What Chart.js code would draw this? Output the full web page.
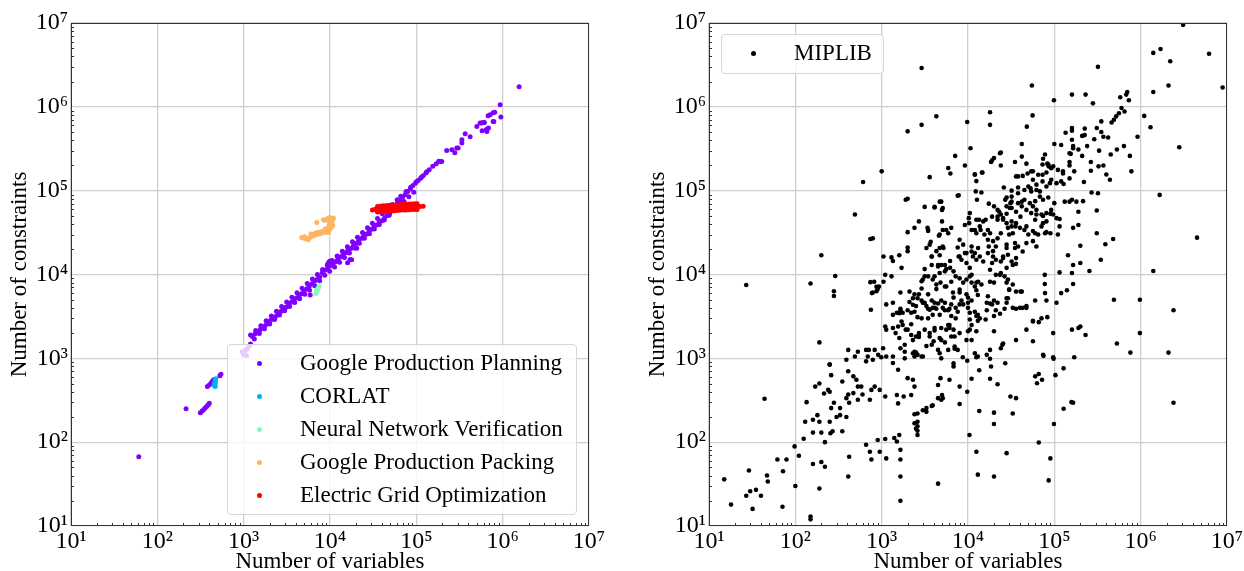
<!DOCTYPE html>
<html>
<head>
<meta charset="utf-8">
<script src="https://cdn.jsdelivr.net/npm/chart.js@4.4.1/dist/chart.umd.min.js"></script>
<style>
  html, body { margin: 0; padding: 0; background: #fff; }
  #wrap { position: relative; width: 1244px; height: 571px; overflow: hidden; font-family: "Liberation Serif", "Times New Roman", serif; }
  canvas { position: absolute; top: 0; }
  #leftChart { left: 0; }
  #rightChart { left: 638px; }
  .legend { position: absolute; box-sizing: border-box; background: rgba(255,255,255,0.8); border: 1px solid #d6d6d6; border-radius: 4px; }
  #leftLegend { left: 227px; top: 344px; width: 350px; height: 171px; }
  #rightLegend { left: 721px; top: 34px; width: 163px; height: 40px; }
  .legend .row { position: absolute; left: 0; right: 0; height: 33px; }
  .legend .dot { position: absolute; left: 29px; top: 14px; width: 5px; height: 5px; border-radius: 50%; }
  .legend .txt { position: absolute; left: 72px; top: -1px; line-height: 33px; font-size: 23px; color: #000; white-space: nowrap; }
</style>
</head>
<body>
<div id="wrap">
  <canvas id="leftChart" width="620" height="571"></canvas>
  <canvas id="rightChart" width="606" height="571"></canvas>
  <div id="leftLegend" class="legend"></div>
  <div id="rightLegend" class="legend"></div>
</div>
<script>
// ---- data: [number of variables, number of constraints] ----
const decades = [1e1, 1e2, 1e3, 1e4, 1e5, 1e6, 1e7];

const leftLabels = ['Google Production Planning', 'CORLAT', 'Neural Network Verification', 'Google Production Packing', 'Electric Grid Optimization'];
const leftColors = ['#8000ff', '#00b4eb', '#80ffb4', '#ffb462', '#ff0000'];

const planningPoints = [
  [61,67],[215,250],[315,225],[330,235],[345,245],[360,258],[375,268],[390,282],[400,292],
  [380,460],[400,480],[420,510],[440,545],[455,560],[530,620],[545,645],
  [960,1200],[1000,1180],[1050,1250],[1100,1300],[1150,1400],[1200,1480],[1080,1080],[1000,1100],
  [1260,1820],[1350,1950],[1450,2040],[1550,2190],[1660,2340],[1780,2460],[1900,2630],[2040,2820],
  [2190,3020],[2340,3160],[2510,3390],[2690,3630],[2880,3800],[3090,4070],[3310,4370],[3550,4680],
  [3800,4900],[4070,5250],[4370,5620],[4680,5890],[5010,6310],[5370,6760],[5750,7240],[6170,7760],
  [6610,8320],[7080,8710],[7590,9330],[8130,10500],[8710,11200],[9330,11700],[10000,12600],[10700,13200],
  [11500,14100],[12300,15100],[13200,16200],[14100,17000],[15100,18200],[16200,19500],[17400,20400],
  [18600,21900],[20000,23400],[21400,25100],[22900,26900],[24500,28800],[26300,30200],[28200,32400],
  [30200,34700],[32400,37200],[34700,38900],[37200,41700],[39800,43700],[42700,46800],[45700,50100],
  [49000,53700],[52500,57500],[56200,61700],[60300,70800],[64600,75900],[69200,83200],[74100,89100],
  [79400,97700],[85100,105000],[91200,115000],[97700,123000],[105000,132000],[112000,141000],
  [120000,151000],[129000,162000],[141000,178000],[155000,195000],[170000,209000],[182000,224000],
  [1330,1700],[1520,1980],[1740,2250],[2000,2560],[2280,2900],[2600,3280],[2980,3700],[3400,4150],
  [3900,4650],[4450,5150],[5100,5800],[5800,6500],[6650,7350],[7600,8450],[8700,9800],[9900,10900],
  [11300,12300],[12900,14000],[14700,15900],[16800,18100],[19200,20700],[21900,23600],[25000,27000],
  [28600,30700],[32600,34900],[37200,39500],[42500,44800],[48500,50900],[55300,57500],[63000,65500],
  [72000,74400],[82000,84500],[93500,96000],
  [1200,1900],[1380,2150],[1580,2450],[1820,2800],[2090,3200],[2400,3650],[2750,4150],[3150,4700],
  [3620,5350],[4150,6050],[4750,6850],[5450,7800],[6250,8850],[7150,10000],[8200,11500],[9300,13000],
  [10600,14700],[12100,16600],[13900,18900],[15900,21500],[18200,24500],[20800,27800],[23800,31600],
  [27200,36000],[31000,41000],[35500,46600],[40500,53000],[46300,60300],[52800,68500],[60000,78000],
  [66000,86000],[76000,98000],[86000,110000],[100000,128000],[115000,146000],[132000,168000],
  [9500,13500],[10000,14500],[9700,14000],[5900,5700],[17100,15100],[20400,20600],[16000,13800],[17800,15000],
  [197000,223000],[190000,223000],[225000,302000],[258000,308000],[294000,322000],[305000,322000],
  [279000,283000],[337000,370000],[337000,405000],[368000,477000],[420000,440000],[502000,583000],
  [548000,641000],[570000,641000],[594000,652000],[615000,652000],[656000,508000],[578000,519000],
  [646000,535000],[685000,560000],[679000,783000],[716000,805000],[776000,851000],[810000,860000],
  [776000,670000],[790000,670000],[935000,1060000],[953000,755000],[1550000,1740000]
];

const corlatPoints = [[460,470],[465,490],[470,510],[465,530],[470,550],[475,570],[462,500],[468,460]];

const nnPoints = [[6800,5900],[6900,6100],[7000,6500],[7200,6700],[7300,6900],[7500,7300]];

const packingPoints = [
  [4700,27700],[7030,41800],[5600,25900],[5800,27500],[6200,28500],[6370,29800],[6000,30500],[6700,31000],
  [7200,32000],[7500,30500],[7670,31700],[8000,32500],[8500,33000],[9000,32000],[9600,31700],[9180,34100],
  [8800,35000],[9500,36000],[10300,37000],[10500,37400],[9800,39000],[10600,40000],[10200,41000],
  [10000,42900],[10400,44000],[8400,45000],[10800,45500],[10950,47100],[9400,46500],[9900,48000],
  [5000,27000],[5300,26500],[6500,29000],[6900,30000],[7800,31000],[8200,31500],[8700,32500],[9300,33000],
  [9900,34500],[10100,35500],[10700,38500],[10000,40500],[9700,44000],[10400,46500],[8700,44500],
  [9200,45500],[5100,28200]
];

const gridPoints = [
  [31000,59000],[33000,59500],[35500,60000],[38000,60500],[41000,61000],[44000,61300],[47000,61600],
  [50000,62000],[54000,62300],[58000,62600],[62000,63000],[66000,63300],[71000,63500],[76000,63800],
  [82000,64000],[88000,64300],[95000,64500],[102000,64700],[110000,64800],[120000,65000],
  [35500,64800],[38000,65300],[41000,65900],[44000,66200],[47000,66500],[50000,67000],[54000,67300],
  [58000,67600],[62000,68000],[66000,68400],[71000,68600],[76000,68900],[82000,69100],[88000,69400],
  [95000,69700],[102000,69900],
  [35500,55500],[38000,56000],[41000,56400],[44000,56700],[47000,57000],[50000,57400],[54000,57600],
  [58000,57900],[62000,58300],[66000,58600],[71000,58700],[76000,59000],[82000,59200],[88000,59500],
  [95000,59700],[102000,59800]
];

const rightLabels = ['MIPLIB'];
const rightColors = ['#000000'];

const miplibPoints = [
  [3.1e6,9.5e6],[1.4e6,4.4e6],[1.7e6,4.9e6],[6.2e6,4.3e6],[2.2e6,3.5e6],[2.9e3,2.9e6],[3.2e5,3.0e6],
  [5.5e4,1.8e6],[2.1e6,1.8e6],[1.4e6,1.5e6],[8.9e6,1.7e6],[1.6e5,1.4e6],[2.3e5,1.4e6],[9.9e4,1.2e6],
  [2.8e5,1.1e6],[5.8e5,1.3e6],[7.0e5,1.5e6],[6.8e5,1.4e6],[7.3e5,1.2e6],[6.0e5,9.7e5],[6.5e5,8.8e5],
  [5.6e5,8.4e5],[5.2e5,7.7e5],[4.9e5,7.0e5],[4.6e5,6.5e5],[1.1e6,7.8e5],[1.3e6,5.7e5],[1.8e4,8.6e5],
  [4.3e3,7.7e5],[5.6e4,7.9e5],[1.8e4,6.1e5],[4.8e4,5.8e5],[9.8e3,6.6e5],[2.9e3,6.1e5],[2.0e3,5.1e5],
  [3.5e5,6.7e5],[3.1e5,5.6e5],[3.5e5,5.0e5],[3.7e5,4.4e5],[4.2e5,4.3e5],[9.2e5,4.4e5],[1.6e5,5.6e5],
  [1.6e5,5.2e5],[1.35e5,4.9e5],[2.25e5,5.5e5],[2.1e5,4.5e5],[2.25e5,4.6e5],[2.9e5,4.1e5],[4.2e4,3.6e5],
  [1.07e4,3.2e5],[1.0e5,3.6e5],[1.2e5,3.5e5],[1.6e5,4.05e5],[1.65e5,3.4e5],[1.55e5,2.75e5],[1.9e5,3.1e5],
  [2.1e5,2.6e5],[2.4e5,3.4e5],[3.3e5,3.0e5],[4.5e5,2.7e5],[5.3e5,3.1e5],[6.4e5,3.4e5],[7.5e5,2.6e5],
  [2.8e6,3.3e5],[7.1e3,2.6e5],[9.2e3,2.0e5],[2.4e4,2.85e5],[1.9e4,2.3e5],[1.85e4,2.2e5],[2.4e4,2.0e5],
  [7.8e4,2.7e5],[7.4e4,2.4e5],[8.3e4,2.1e5],[8.6e4,1.95e5],[9.7e4,1.95e5],[3.5e4,2.2e5],[4.75e4,2.1e5],
  [1.5e5,2.2e5],[1.5e5,2.0e5],[2.65e5,2.2e5],[2.65e5,1.73e5],[3.25e5,1.95e5],[3.7e5,2.0e5],[4.0e5,1.56e5],
  [4.4e5,1.35e5],[7.8e5,1.7e5],[3.6e3,1.45e5],[5.9e3,1.86e5],[6.25e3,1.6e5],[1.2e4,1.55e5],[1.47e4,1.65e5],
  [1.25e4,1.3e5],[3.8e4,1.48e5],[4.3e4,1.5e5],[4.9e4,1.6e5],[5.65e4,1.7e5],[6.5e4,1.55e5],[7.3e4,1.55e5],
  [8.1e4,1.65e5],[9.2e4,1.35e5],[1.1e5,1.77e5],[1.26e5,1.7e5],[1.7e5,1.7e5],[8.9e4,1.23e5],[8.1e4,1.12e5],
  [2.2e5,1.27e5],[2.6e4,1.09e5],[3.2e4,1.0e5],[3.8e4,1.09e5],[5.0e4,1.12e5],[5.4e4,9.8e4],[6.2e4,1.18e5],
  [6.8e4,9.8e4],[7.8e3,8.8e4],[1.23e4,9.8e4],[1.43e4,9.5e4],[1.27e4,7.8e4],[1.74e4,7.0e4],[2.0e4,6.5e4],
  [2.3e4,5.6e4],[2.2e4,4.9e4],[2.55e4,4.7e4],[2.8e4,5.3e4],[3.05e4,6.2e4],[3.1e4,7.1e4],[2.7e4,7.8e4],
  [3.2e4,8.5e4],[3.8e4,9.3e4],[4.2e4,7.4e4],[4.75e4,5.9e4],[4.05e4,4.9e4],[3.2e4,4.3e4],[3.55e4,3.75e4],
  [2.9e4,3.6e4],[3.3e4,3.1e4],[5.65e4,6.5e4],[5.4e4,5.4e4],[6.2e4,5.2e4],[6.0e4,4.5e4],[7.4e4,5.0e4],
  [8.1e4,4.3e4],[9.2e4,5.9e4],[9.7e4,5.2e4],[1.06e5,4.7e4],[8.1e4,3.2e4],[9.0e4,3.1e4],[1.1e5,3.0e4],
  [6.0e4,3.1e4],[4.5e4,3.4e4],[1.32e5,7.4e4],[1.5e5,7.4e4],[1.8e5,7.4e4],[2.15e5,7.5e4],[2.7e5,9.5e4],
  [3.2e5,9.3e4],[1.9e5,5.6e4],[3.1e5,5.8e4],[3.1e5,3.1e4],[3.9e5,2.3e4],[4.8e5,2.65e4],[2.0e5,2.2e4],
  [1.66e6,8.9e4],[4.5e6,2.75e4],[1.4e6,1.1e4],[1.44e5,1.7e4],[1.65e5,1.3e4],[1.15e5,1.06e4],[7.75e4,9.9e3],
  [7.75e4,7.7e3],[1.65e5,7.7e3],[3.45e5,1.5e4],[2.55e5,1.1e4],[1.9e3,7.8e4],[3.15e3,6.4e4],[1.6e3,1.7e4],
  [2.0e3,2.1e4],[3.45e3,3.4e4],[4.7e3,3.0e4],[5.1e3,3.4e4],[4.7e3,2.07e4],[5.4e3,1.3e4],[5.6e3,1.16e4],
  [4.5e3,1.3e4],[4.1e3,9.5e3],[3.15e3,9.5e3],[7.6e3,2.1e4],[7.8e3,1.64e4],[8.4e3,1.5e4],[9.2e3,1.8e4],
  [9.6e3,1.37e4],[1.05e4,1.2e4],[1.14e4,1.64e4],[1.1e4,2.16e4],[1.31e4,2.07e4],[1.05e4,5.4e4],[1.02e4,4.7e4],
  [1.03e4,4.1e4],[1.2e4,3.4e4],[1.4e4,3.4e4],[1.5e4,4.3e4],[1.34e4,4.5e4],[1.8e4,3.1e4],[1.7e4,2.6e4],
  [1.74e4,2.16e4],[2.1e4,2.16e4],[1.95e4,1.9e4],[2.55e4,1.57e4],[2.8e4,2.07e4],[3.5e4,2.07e4],[3.6e4,1.34e4],
  [1.8e4,1.14e4],[2.1e4,9.9e3],[2.4e4,1.04e4],[1.1e4,9.9e3],[1.25e4,8.0e3],
  [1.2e4,1.57e5],[1.45e4,1.65e5],[2.0e4,2.45e5],[2.35e4,2.8e5],[4.2e4,2.55e5],[7.3e4,2.05e5],[5.4e4,1.7e5],
  [8.5e4,2.05e5],[9.2e4,1.85e5],[1.26e5,1.6e5],[1.5e5,2.8e5],[1.65e5,3.2e5],[1.5e5,1.4e5],[3.6e4,1.48e5],
  [5.65e4,1.35e5],[7.3e4,1.29e5],[1.06e5,1.23e5],[1.2e5,1.29e5],[1.28e5,1.2e5],[4.5e4,1.02e5],[5.3e4,1.07e5],
  [6.2e4,1.02e5],[2.8e4,8.3e4],[3.2e4,7.4e4],[3.8e4,7.1e4],[4.5e4,7.8e4],[5.2e4,7.1e4],[6.0e4,7.5e4],
  [6.8e4,8.5e4],[7.4e4,7.8e4],[8.5e4,8.3e4],[1.0e5,7.1e4],[1.6e5,7.8e4],[2.8e4,6.5e4],[3.6e4,5.6e4],
  [7.1e4,5.2e4],[9.0e4,5.3e4],[1.15e5,4.6e4],[2.2e4,5.9e4],[2.4e4,5.2e4],[1.9e4,4.9e4],[1.6e4,4.5e4],
  [2.55e4,4.5e4],[2.8e4,4.1e4],[3.2e4,3.75e4],[3.6e4,4.1e4],[4.0e4,3.6e4],[5.0e4,3.0e4],[6.5e4,3.0e4],
  [7.4e4,4.1e4],[7.8e4,3.1e4],[1.25e4,4.5e4],[9.2e3,3.9e4],[1.1e4,3.4e4],[1.25e4,3.1e4],[1.55e4,3.0e4],
  [1.95e4,2.5e4],[2.2e4,2.7e4],[2.8e4,2.27e4],[3.5e4,2.37e4],[4.3e4,1.88e4],[6.2e4,2.16e4],[8.0e3,2.6e4],
  [8.0e3,1.64e4],[1.1e4,1.88e4],[1.25e4,1.5e4],[1.5e4,1.43e4],[1.7e4,1.8e4],[1.9e4,1.37e4],[2.4e4,1.43e4],
  [2.9e4,1.72e4],[3.2e4,1.43e4],[2.8e4,1.2e4],[5.1e3,2.16e4],[3.45e3,3.3e4],[5.1e3,6.2e4],[5.0e3,4.3e4],
  [5.6e3,3.4e4],[3.8e3,1.3e4],[4.5e3,1.25e4],[6.2e3,1.2e4],[4.7e3,1.04e4],[3.45e3,9.5e3],[2.9e3,8.3e3],
  [3.9e3,8.7e3],[4.8e3,8.0e3],[7.2e3,9.5e3],[8.0e3,9.0e3],[8.8e3,8.0e3],[1.05e4,9.5e3],[1.2e4,7.2e3],
  [1.31e4,8.2e3],[1.25e4,6.5e3],[1.8e4,8.2e3],[2.0e4,8.0e3],[2.65e4,9.5e3],[2.9e4,8.7e3],[3.3e4,7.6e3],
  [2.0e3,1.9e4],[1.7e3,1.2e4],[1.35e3,1.45e4],[1.1e3,9.9e3],[1.05e3,1.64e4],[790,2.7e4],[820,8.2e3],
  [900,6.7e3],[750,3.8e3],[1.3e3,9.5e3],[1.35e3,4.6e3],[1.13e3,4.4e3],[2.1e3,6.25e3],[2.3e3,5.2e3],
  [2.1e3,4.7e3],[2.3e3,4.35e3],[2.9e3,4.9e3],[3.3e3,4.2e3],[3.6e3,3.8e3],[3.8e3,4.9e3],[4.5e3,4.5e3],
  [5.1e3,4.0e3],[4.7e3,3.3e3],[3.45e3,3.0e3],[2.4e3,3.6e3],[2.0e3,3.75e3],[1.65e3,3.75e3],[1.35e3,3.3e3],
  [1.7e3,2.75e3],[2.2e3,2.55e3],[3.15e3,2.2e3],[4.1e3,2.15e3],[5.9e3,2.5e3],[6.4e3,3.2e3],[7.2e3,3.0e3],
  [5.4e3,3.75e3],[7.2e3,4.0e3],[1.0e4,4.0e3],[1.2e4,3.6e3],[1.25e4,2.1e3],[1.1e4,1.65e3],[8.0e3,6.1e3],
  [1.1e4,4.9e3],[2.0e4,4.9e3],[1.65e4,4.6e3],[1.65e4,3.75e3],[2.0e4,3.2e3],[2.35e4,3.4e3],[4.0e4,4.0e3],
  [3.6e4,6.25e3],[7.8e4,6.0e3],[1.06e5,4.6e3],[1.2e5,6.0e3],[1.4e5,6.5e3],[1.6e5,2.2e3],[5.65e4,2.75e3],
  [4.75e4,2.2e3],[3.6e4,1.65e3],[2.55e4,1.5e3],[1.8e4,1.26e3],[1.3e4,1.05e3],[7.0e3,1.3e3],[4.7e3,1.15e3],
  [990,1.03e3],[5.65e4,1.6e3],[7.4e4,1.1e3],[9.7e4,2.0e3],
  [280,6.3e3],[280,5.55e3],[770,6.0e3],[870,7.15e3],[870,6.3e3],[190,1.55e3],[1.65e3,3.9e3],[1.6e3,3.45e3],
  [2.7e3,5.8e3],[3.45e3,5.8e3],[4.3e3,6.7e3],[5.4e3,7.2e3],[6.7e3,6.1e3],[2.5e3,4.2e3],[3.0e3,4.6e3],
  [4.1e3,4.0e3],[5.9e3,3.75e3],[7.6e3,3.6e3],[1.1e3,2.4e3],[1.13e3,2.2e3],[1.35e3,2.3e3],[1.45e3,2.0e3],
  [1.6e3,1.75e3],[1.9e3,2.2e3],[2.2e3,1.9e3],[2.3e3,1.65e3],[2.7e3,1.8e3],[3.6e3,2.0e3],[4.1e3,2.3e3],
  [4.9e3,1.65e3],[5.6e3,2.2e3],[6.4e3,1.82e3],[1.65e3,1.32e3],[1.85e3,1.2e3],[2.4e3,1.2e3],[2.6e3,1.1e3],
  [2.9e3,1.05e3],[3.8e3,1.45e3],[4.9e3,1.0e3],[5.9e3,1.26e3],[7.0e3,1.38e3],[710,1.26e3],[910,1.1e3],
  [690,1.05e3],[790,960],[1.04e3,1.32e3],[1.13e3,1.05e3],[1.35e3,880],[1.55e3,730],[410,1.26e3],[490,1.05e3],
  [530,1.2e3],[660,920],[410,700],[350,530],[260,630],[240,420],[250,840],[390,960],[470,610],[510,555],
  [530,460],[470,385],[410,370],[390,335],[330,255],[420,295],[530,320],[600,370],[580,460],[760,420],
  [730,320],[830,460],[170,460],[190,500],[215,380],[250,400],[280,295],[260,255],[330,210],[300,200],
  [390,200],[135,300],[130,175],[160,185],[180,210],[190,175],[250,175],[270,135],[350,135],[160,130],
  [200,130],[255,128],[220,100],[125,110],[98,89],[79,62],[110,69],[44,330],[950,420],[1.1e3,350],
  [1.5e3,365],[1.55e3,290],[1.8e3,350],[2.2e3,365],[2.4e3,460],[2.3e3,555],[2.0e3,580],[2.6e3,220],
  [3.0e3,240],[3.3e3,230],[2.6e3,175],[2.4e3,168],[2.6e3,155],[2.6e3,137],[3.9e3,275],[4.5e3,335],
  [5.0e3,365],[6.1e3,555],[900,106],[1.1e3,109],[1.4e3,112],[1.6e3,122],[1.5e3,102],[660,93],[730,77],
  [950,77],[760,62],[1.13e3,64],[1.65e3,81],[1.65e3,62],[1.65e3,39],[1.65e3,20],[4.5e3,32],[420,67],
  [410,39],[200,58],[220,51],[160,55],[190,28],[100,30],[72,45],[62,62],[47,40],[48,34],[40,23],[35,27],
  [30,26],[32,16],[29,46],[27,23],[71,17],[150,13],[150,12],[15,36],[18,18],[27,7.5e3],[150,7.8e3],
  [200,1.7e4],[290,9.6e3],[490,5.2e4],[610,1.27e5],[740,2.65e4],[1.0e3,1.7e5],[1.3e3,1.6e4],[1.05e3,8.2e3],
  [930,7.2e3],[740,8.1e3],[2.0e3,8.0e4],[2.7e3,4.3e4],[2.4e3,3.6e4],[2.0e3,3.2e4],[4.6e3,2.9e4],
  [3.7e3,2.45e4],[3.3e3,2.07e4],[5.2e3,2.07e4],[3.8e3,1.64e4],[4.7e3,1.7e4],[6.2e3,1.45e4],[3.15e3,1.16e4],
  [4.9e3,7.4e4],[5.0e3,5.9e4],[4.1e3,6.4e4],[7.6e3,8.7e4],
  [4.9e5,5.0e3],[9.8e5,5.0e3],[2.4e6,3.75e3],[6.0e4,4.9e3],[4.75e4,4.0e3],[3.6e4,3.9e3],[3.0e4,6.6e3],
  [4.05e4,6.25e3],[2.8e4,4.6e3],[1.7e4,5.5e3],[9.8e5,2.0e3],[1.9e5,2.3e3],[2.3e5,1.9e3],[5.3e5,1.5e3],
  [7.6e5,1.17e3],[2.1e6,1.17e3],[1.7e5,1.03e3],[9.8e4,990],[7.5e4,1.07e3],[6.6e4,2.7e3],[8.3e4,3.1e3],
  [2.5e4,1.45e3],[2.0e4,2.1e3],[6.0e4,610],[6.6e4,650],[7.2e4,555],[6.3e4,505],[1.28e5,760],[1.03e5,630],
  [1.65e5,295],[1.58e5,300],[1.28e5,250],[9.9e4,165],[2.4e6,295],[3.1e4,350],[3.6e4,335],[3.3e4,220],
  [2.0e4,225],[2.0e4,165],[1.35e4,235],[1.04e4,122],[1.25e4,77],[2.8e4,74],[1.3e4,41],[2.0e4,39],
  [6.6e4,99],[9.0e4,64],[8.6e4,35],[1.8e4,990],[1.85e4,800],[2.7e4,875],[1.8e4,570],[2.2e4,490],
  [1.1e4,570],[1.35e4,720],[1.25e4,1.03e3],[9.8e3,935],[8.7e3,1.03e3],[6.8e3,800],[6.8e3,870],[4.8e3,580],
  [4.5e3,480],[3.8e3,270],[3.3e3,255],[4.9e3,320],[5.1e3,335],[8.0e3,460],[9.8e3,400],[8.0e3,285],
  [2.4e3,215],[2.5e3,145],[2.6e3,122],[6.1e3,2.5e3],[6.8e3,2.2e3],[4.7e3,1.75e3],[4.0e3,1.6e3],
  [3.3e3,1.4e3],[2.5e3,1.17e3],[1.85e3,1.45e3],[2.7e3,1.9e3],[5.4e3,4.6e3],[6.8e3,5.3e3],[1.0e4,4.6e3],
  [8.0e3,6.6e3],[1.3e4,5.7e3],[1.05e4,2.9e3],[1.25e4,3.2e3],[1.3e4,2.8e3],[1.6e4,2.9e3],[1.1e4,2.5e3],
  [1.0e4,2.1e3],[1.8e4,4.5e3],[1.75e3,2.5e3],[790,6.1e3],[250,850],
  [3.2e4,6.2e4],[4.2e4,6.5e4],[6.2e4,5.9e4],[8.1e4,5.4e4],[2.2e4,4.5e4],[4.75e4,3.75e4],[5.65e4,3.3e4],
  [7.1e4,3.75e4],[1.15e5,3.75e4],[1.65e5,3.6e4],[1.9e5,3.9e4],[1.37e4,3.75e4],[1.7e4,3.4e4],[2.4e4,3.1e4],
  [3.0e4,3.0e4],[3.8e4,2.16e4],[4.75e4,2.37e4],[5.65e4,2.5e4],[8.8e3,2.27e4],[9.6e3,1.8e4],[1.2e4,1.8e4],
  [1.37e4,1.64e4],[1.95e4,1.64e4],[2.1e4,1.5e4],[2.55e4,1.64e4],[3.6e4,1.57e4],[3.3e4,1.3e4],[4.3e3,1.9e4],
  [3.6e3,2.27e4],[3.4e3,3.6e4],[4.1e3,6.3e4],[4.7e3,7.4e4],[5.9e3,3.1e4],[6.4e3,3.6e4],[3.8e3,1.64e4],
  [4.9e3,1.3e4],[6.8e3,1.09e4],[5.4e3,1.09e4],[3.0e3,8.7e3],[4.3e3,7.6e3],[5.6e3,7.2e3],[6.4e3,8.2e3],
  [9.6e3,8.7e3],[1.1e4,8.0e3],[1.43e4,7.6e3],[2.35e4,9.9e3],[2.8e4,8.0e3],[1.65e3,6.1e3],[2.4e3,5.8e3],
  [2.9e3,6.8e3],[2.6e3,5.2e3],[3.15e3,4.6e3],[3.45e3,3.9e3],[3.9e3,4.0e3],[4.1e3,4.6e3],[4.9e3,4.9e3],
  [4.3e3,3.9e3],[3.9e3,3.3e3],[2.9e3,3.0e3],[2.6e3,3.1e3],[2.2e3,3.5e3],[1.75e3,3.5e3],[1.5e3,3.5e3],
  [1.55e3,2.4e3],[2.0e3,2.2e3],[2.5e3,1.82e3],[2.7e3,2.0e3],[3.6e3,1.82e3],[5.4e3,1.55e3],[6.1e3,2.3e3],
  [8.0e3,2.0e3],[7.0e3,1.82e3],[4.9e3,2.3e3],[6.1e3,3.9e3],[6.4e3,4.4e3],[8.8e3,4.4e3],[1.05e4,3.5e3],
  [1.3e4,3.3e3],[1.37e4,3.0e3],[1.05e4,2.2e3],[9.6e3,1.65e3],[9.6e3,5.8e3],[1.0e4,5.3e3],[8.4e3,4.9e3],
  [8.0e3,4.4e3],[2.2e4,4.6e3],[1.9e4,4.4e3],[2.1e4,3.75e3],[2.65e4,3.9e3],[2.8e4,5.2e3],[3.3e4,4.0e3],
  [4.3e4,4.0e3],[4.75e4,4.2e3],[4.2e4,6.25e3],[3.0e4,6.6e3],[2.9e4,5.2e3],[8.1e4,4.9e3],[2.0e5,2.4e3],
  [1.6e5,1.04e4],[2.0e5,1.37e4],[7.1e4,3.0e3],[5.65e4,2.8e3],[2.4e4,1.32e3],[1.65e4,1.1e3],[1.2e4,1.15e3],
  [7.6e3,1.26e3],[4.5e3,1.26e3],[3.0e3,1.05e3],[2.4e3,1.05e3],[2.3e3,1.15e3],[1.85e3,1.0e3],[1.35e3,1.05e3],
  [830,1.26e3],[660,1.26e3],[9.7e4,1.03e3]
];

// ---- helpers ----
const SERIF = '"Liberation Serif", "Times New Roman", serif';
const supDigits = { 1: '\u00b9', 2: '\u00b2', 3: '\u00b3', 4: '\u2074', 5: '\u2075', 6: '\u2076', 7: '\u2077' };

function decadeLabel(v) {
    const e = Math.round(Math.log10(v));
    return '10' + supDigits[e];
}

function toXY(points) {
    return points.map(p => ({ x: p[0], y: p[1] }));
}

function logAxis(title, isX) {
    return {
        type: 'logarithmic',
        min: 10,
        max: 1e7,
        afterBuildTicks: s => { s.ticks = decades.map(v => ({ value: v })); },
        afterFit: s => {
            if (isX) s.height = 45; else s.width = 71;
            s.paddingLeft = s.paddingRight = s.paddingTop = s.paddingBottom = 0;
        },
        grid: { color: '#cfcfcf', lineWidth: 1.3, drawTicks: false },
        border: { display: false },
        ticks: {
            color: '#000',
            font: { family: SERIF, size: 24 },
            padding: isX ? 1 : 3,
            maxRotation: 0,
            autoSkip: false,
            callback: v => decadeLabel(v)
        },
        title: {
            display: true,
            text: title,
            color: '#000',
            font: { family: SERIF, size: 23, lineHeight: 1 },
            padding: isX ? { top: 0, bottom: -2 } : { top: 8, bottom: 0 }
        }
    };
}

// plot frame plus small inward minor ticks
const framePlugin = {
    id: 'frame',
    afterDraw(chart) {
        const { ctx, chartArea: a, scales } = chart;
        ctx.save();
        ctx.strokeStyle = '#333';
        ctx.lineWidth = 1;
        ctx.strokeRect(Math.round(a.left) + 0.5, Math.round(a.top) + 0.5,
            Math.round(a.right - a.left) - 1, Math.round(a.bottom - a.top) - 1);
        ctx.beginPath();
        decades.slice(0, -1).forEach(d => {
            for (let k = 2; k < 10; k++) {
                const px = Math.round(scales.x.getPixelForValue(k * d)) + 0.5;
                ctx.moveTo(px, a.bottom - 1);
                ctx.lineTo(px, a.bottom - 3);
                const py = Math.round(scales.y.getPixelForValue(k * d)) + 0.5;
                ctx.moveTo(a.left + 1, py);
                ctx.lineTo(a.left + 3, py);
            }
        });
        ctx.stroke();
        ctx.restore();
    }
};

function makeScatter(canvasId, datasets, padRight) {
    return new Chart(document.getElementById(canvasId), {
        type: 'scatter',
        data: { datasets },
        options: {
            responsive: false,
            animation: false,
            events: [],
            layout: { padding: { left: 0, right: padRight, top: 23, bottom: 0 } },
            plugins: { legend: { display: false }, tooltip: { enabled: false } },
            scales: {
                x: logAxis('Number of variables', true),
                y: logAxis('Number of constraints', false)
            }
        },
        plugins: [framePlugin]
    });
}

function buildLegend(elId, labels, colors) {
    const box = document.getElementById(elId);
    labels.forEach((text, i) => {
        const row = document.createElement('div');
        row.className = 'row';
        row.style.top = (2 + i * 33) + 'px';
        const dot = document.createElement('span');
        dot.className = 'dot';
        dot.style.background = colors[i];
        const txt = document.createElement('span');
        txt.className = 'txt';
        txt.textContent = text;
        row.appendChild(dot);
        row.appendChild(txt);
        box.appendChild(row);
    });
}

// ---- charts ----
const leftSeries = [planningPoints, corlatPoints, nnPoints, packingPoints, gridPoints];
makeScatter('leftChart', leftSeries.map((pts, i) => ({
    label: leftLabels[i],
    data: toXY(pts),
    backgroundColor: leftColors[i],
    pointRadius: 2.5,
    pointBorderWidth: 0,
    order: leftSeries.length - i   // later series drawn on top
})), 31);

makeScatter('rightChart', [{
    label: rightLabels[0],
    data: toXY(miplibPoints),
    backgroundColor: rightColors[0],
    pointRadius: 2.3,
    pointBorderWidth: 0
}], 17);

buildLegend('leftLegend', leftLabels, leftColors);
buildLegend('rightLegend', rightLabels, rightColors);
</script>
</body>
</html>
